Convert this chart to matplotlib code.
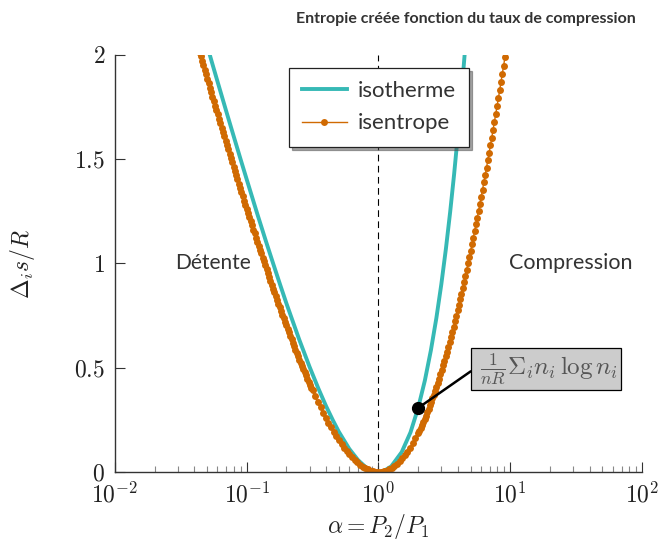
#!/usr/bin/env python3

import matplotlib
matplotlib.use("Agg")
import matplotlib.pyplot as plt
from matplotlib.ticker import FixedLocator, FuncFormatter, LogLocator
import numpy as np

plt.rcParams['mathtext.fontset'] = 'cm'
plt.rcParams['font.family'] = ['Lato', 'DejaVu Sans']

##################################################################

# isotherme : alpha = P2/P1 et entropie creee
alpha_isotherme = [0.05, 0.055, 0.06, 0.07, 0.08, 0.09, 0.1, 0.12, 0.14, 0.16,
                   0.18, 0.2, 0.25, 0.3, 0.35, 0.4, 0.45, 0.5, 0.6, 0.7,
                   0.8, 0.9, 1.0, 1.1, 1.25, 1.5, 1.75, 2.0, 2.25, 2.5,
                   2.75, 3.0, 3.25, 3.5, 3.75, 4.0, 4.25, 4.5, 4.6]
ds_isotherme = [2.046, 1.955, 1.873, 1.729, 1.606, 1.498, 1.403, 1.240, 1.106, 0.993,
                0.895, 0.809, 0.636, 0.504, 0.400, 0.316, 0.249, 0.193, 0.111, 0.057,
                0.023, 0.005, 0.0, 0.005, 0.027, 0.095, 0.190, 0.307, 0.439, 0.584,
                0.738, 0.901, 1.071, 1.247, 1.428, 1.614, 1.803, 1.996, 2.074]

# isentrope (points) : branche detente
alpha_isentrope_gauche = [
    0.04365, 0.04467, 0.04571, 0.04677, 0.04786, 0.04898, 0.05012, 0.05129, 0.05248, 0.05370,
    0.05495, 0.05623, 0.05754, 0.05888, 0.06026, 0.06166, 0.06310, 0.06457, 0.06607, 0.06761,
    0.06918, 0.07079, 0.07244, 0.07413, 0.07586, 0.07762, 0.07943, 0.08128, 0.08318, 0.08511,
    0.08710, 0.08913, 0.09120, 0.09333, 0.09550, 0.09772, 0.1000, 0.1023, 0.1047, 0.1072,
    0.1096, 0.1122, 0.1148, 0.1175, 0.1202, 0.1230, 0.1259, 0.1288, 0.1318, 0.1349,
    0.1380, 0.1413, 0.1445, 0.1479, 0.1514, 0.1549, 0.1585, 0.1622, 0.1660, 0.1698,
    0.1738, 0.1778, 0.1820, 0.1862, 0.1905, 0.1950, 0.1995, 0.2042, 0.2089, 0.2138,
    0.2188, 0.2239, 0.2291, 0.2344, 0.2399, 0.2455, 0.2512, 0.2570, 0.2630, 0.2692,
    0.2754, 0.2818, 0.2884, 0.2951, 0.3020, 0.3090, 0.3162]
ds_isentrope_gauche = [
    2.014, 1.993, 1.971, 1.950, 1.928, 1.907, 1.885, 1.864, 1.842, 1.821,
    1.800, 1.778, 1.757, 1.736, 1.715, 1.694, 1.673, 1.652, 1.631, 1.610,
    1.589, 1.568, 1.547, 1.527, 1.506, 1.485, 1.465, 1.444, 1.424, 1.403,
    1.383, 1.363, 1.342, 1.322, 1.302, 1.282, 1.262, 1.242, 1.222, 1.203,
    1.183, 1.163, 1.144, 1.124, 1.105, 1.086, 1.067, 1.048, 1.028, 1.010,
    0.991, 0.972, 0.953, 0.935, 0.916, 0.898, 0.880, 0.861, 0.843, 0.825,
    0.808, 0.790, 0.772, 0.755, 0.737, 0.720, 0.703, 0.686, 0.669, 0.652,
    0.636, 0.619, 0.603, 0.587, 0.571, 0.555, 0.539, 0.523, 0.508, 0.493,
    0.478, 0.463, 0.448, 0.433, 0.419, 0.405, 0.391]

# isentrope : autour du minimum
alpha_isentrope_milieu = [
    0.3311, 0.3467, 0.3631, 0.3802, 0.3981, 0.4169, 0.4365, 0.4571, 0.4786, 0.5012,
    0.5248, 0.5495, 0.5754, 0.6026, 0.6310, 0.6607, 0.6918, 0.7244, 0.7586, 0.7943,
    0.8318, 0.8710, 0.9120, 0.9550, 1.000, 1.047, 1.096, 1.148, 1.202, 1.259,
    1.318, 1.380, 1.445, 1.514, 1.585, 1.660, 1.738, 1.820, 1.905]
ds_isentrope_milieu = [
    0.363, 0.336, 0.310, 0.285, 0.261, 0.237, 0.215, 0.193, 0.172, 0.153,
    0.134, 0.116, 0.100, 0.085, 0.071, 0.058, 0.046, 0.035, 0.026, 0.018,
    0.012, 0.007, 0.003, 0.001, 0.0, 0.001, 0.003, 0.007, 0.012, 0.020,
    0.028, 0.039, 0.051, 0.065, 0.080, 0.097, 0.117, 0.138, 0.161]

# isentrope : branche compression
alpha_isentrope_droite = [
    1.995, 2.042, 2.089, 2.138, 2.188, 2.239, 2.291, 2.344, 2.399, 2.455,
    2.512, 2.570, 2.630, 2.692, 2.754, 2.818, 2.884, 2.951, 3.020, 3.090,
    3.162, 3.236, 3.311, 3.388, 3.467, 3.548, 3.631, 3.715, 3.802, 3.890,
    3.981, 4.074, 4.169, 4.266, 4.365, 4.467, 4.571, 4.677, 4.786, 4.898,
    5.012, 5.129, 5.248, 5.370, 5.495, 5.623, 5.754, 5.888, 6.026, 6.166,
    6.310, 6.457, 6.607, 6.761, 6.918, 7.079, 7.244, 7.413, 7.586, 7.762,
    7.943, 8.128, 8.318, 8.511, 8.710, 8.913, 9.120]
ds_isentrope_droite = [
    0.185, 0.198, 0.212, 0.225, 0.240, 0.255, 0.270, 0.286, 0.302, 0.319,
    0.336, 0.353, 0.371, 0.390, 0.409, 0.428, 0.448, 0.469, 0.489, 0.511,
    0.532, 0.555, 0.577, 0.600, 0.624, 0.648, 0.673, 0.697, 0.723, 0.749,
    0.775, 0.802, 0.829, 0.856, 0.884, 0.913, 0.942, 0.971, 1.001, 1.031,
    1.061, 1.092, 1.124, 1.155, 1.187, 1.220, 1.253, 1.286, 1.320, 1.354,
    1.389, 1.424, 1.459, 1.494, 1.530, 1.567, 1.604, 1.641, 1.678, 1.716,
    1.754, 1.792, 1.831, 1.870, 1.910, 1.949, 1.989]

alpha_isentrope = alpha_isentrope_gauche + alpha_isentrope_milieu + alpha_isentrope_droite
ds_isentrope = ds_isentrope_gauche + ds_isentrope_milieu + ds_isentrope_droite

# point annote
alpha_point = 2.0
ds_point = 0.307

y_ticks = [0, 0.5, 1, 1.5, 2]
x_ticks = [1e-2, 1e-1, 1e0, 1e1, 1e2]

teal   = '#36b9b5'
orange = '#d06a02'
grey   = '#333333'

##################################################################

fig = plt.figure(figsize=(6.6, 5.44), dpi=100)
ax = fig.add_axes([0.1742, 0.1324, 0.7985, 0.7665])

ax.plot(alpha_isotherme, ds_isotherme, color=teal, lw=2.8, label='isotherme')
ax.plot(alpha_isentrope, ds_isentrope, color=orange, lw=1.0, marker='o',
        markersize=5.0, markeredgewidth=0, label='isentrope')

ax.axvline(1.0, color='k', lw=0.8, ls=(0, (6, 4)), zorder=0)

ax.set_xscale('log')
ax.set_xlim(1e-2, 1e2)
ax.set_ylim(0, 2)

ax.xaxis.set_major_locator(FixedLocator(x_ticks))
ax.xaxis.set_minor_locator(LogLocator(base=10, subs=np.arange(2, 10)))
ax.xaxis.set_major_formatter(FuncFormatter(lambda v, p: f"$10^{{{int(round(np.log10(v)))}}}$"))
ax.yaxis.set_major_locator(FixedLocator(y_ticks))
ax.yaxis.set_major_formatter(FuncFormatter(lambda v, p: f"${v:g}$"))

for side in ['top', 'right']:
    ax.spines[side].set_visible(False)
for side in ['left', 'bottom']:
    ax.spines[side].set_color(grey)
    ax.spines[side].set_linewidth(1.0)

ax.tick_params(which='major', direction='in', length=7, width=0.8, color=grey,
               labelsize=17, pad=7, labelcolor='#222222')
ax.tick_params(which='minor', direction='in', length=4, width=0.8, color='#888888')

ax.set_xlabel(r'$\alpha = P_2/P_1$', fontsize=17, labelpad=4, color='#222222')
ax.set_ylabel(r'$\Delta_i s/R$', fontsize=17, labelpad=27, color='#222222')

ax.text(0.055, 1.0, 'Détente', fontsize=15, color=grey, ha='center', va='center')
ax.text(29, 1.0, 'Compression', fontsize=15.5, color=grey, ha='center', va='center')

# point + boite d'annotation
ax.plot([alpha_point], [ds_point], 'o', color='k', markersize=8.5, zorder=5)
ax.annotate(r'$\;\frac{1}{nR}\Sigma_i n_i\, \log n_i\;$', xy=(alpha_point, ds_point),
            xytext=(56, 39), textcoords='offset pixels', ha='left', va='center',
            fontsize=18, color='#555555',
            bbox=dict(boxstyle='square,pad=0.12', fc='#cccccc', ec='k', lw=0.9),
            arrowprops=dict(arrowstyle='-', color='k', lw=1.8, relpos=(0, 0.5),
                            shrinkA=0, shrinkB=0),
            zorder=6)

leg = ax.legend(loc='upper left', bbox_to_anchor=(0.330, 0.969), borderaxespad=0,
                fontsize=16, frameon=True, shadow=True, fancybox=False,
                handlelength=2.0, borderpad=0.6, labelspacing=0.55, handletextpad=0.5)
leg.get_frame().set_edgecolor('#222222')
leg.get_frame().set_linewidth(0.9)
for t in leg.get_texts():
    t.set_color(grey)

fig.text(0.706, 0.965, 'Entropie créée fonction du taux de compression',
         fontsize=11.5, fontweight='bold', color=grey, ha='center', va='center')

fig.savefig('out.png', dpi=100)
